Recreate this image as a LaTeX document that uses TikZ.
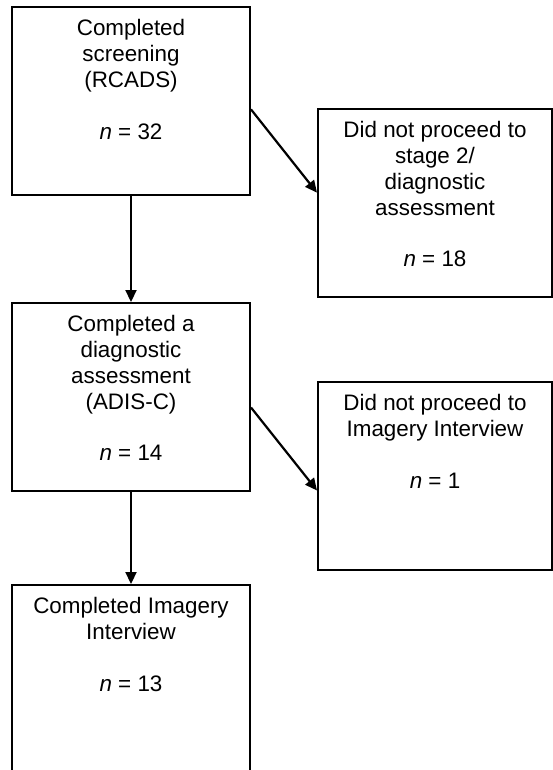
\documentclass[tikz,border=0pt]{standalone}
\usepackage{fontspec}
\setmainfont{Liberation Sans}
\usepackage{tikz}
\usetikzlibrary{positioning, arrows.meta}

\tikzset{
  stagebox/.style={draw, line width=2pt, minimum width=238pt, minimum height=188pt, inner sep=0pt},
  outbox/.style={stagebox, minimum width=234pt},
  boxtext/.style={align=center, inner sep=0pt, font=\fontsize{22.4}{25.8}\selectfont},
  flow/.style={line width=2.2pt, -{Triangle[length=12pt,width=11pt]}}
}

\begin{document}
\begin{tikzpicture}[x=1pt, y=-1pt]
\useasboundingbox (0,0) rectangle (553,770);

\node[stagebox] (screen) at (131,101) {};
\node[outbox] (stage2) at (435,203) {};
\node[stagebox] (adis) at (131,397) {};
\node[outbox] (noint) at (435,476) {};
\node[stagebox] (imagery) at (131,679) {};

\node[boxtext, below=13.5pt of screen.north] (screentxt) {Completed\\screening\\(RCADS)\\[25.8pt]\textit{n} = 32};
\node[boxtext, below=13.5pt of stage2.north] (stage2txt) {Did not proceed to\\stage 2/\\diagnostic\\assessment\\[25.8pt]\textit{n} = 18};
\node[boxtext, below=13.5pt of adis.north] (adistxt) {Completed a\\diagnostic\\assessment\\(ADIS-C)\\[25.8pt]\textit{n} = 14};
\node[boxtext, below=13.5pt of noint.north] (ninttxt) {Did not proceed to\\Imagery Interview\\[25.8pt]\textit{n} = 1};
\node[boxtext, below=13.5pt of imagery.north] (imagerytxt) {Completed Imagery\\Interview\\[25.8pt]\textit{n} = 13};

\draw[flow] (screen) -- (adis);
\draw[flow] (adis) -- (imagery);
\draw[flow] (screen.-4) -- (stage2.175);
\draw[flow] (adis.-5) -- (noint.-173);
\end{tikzpicture}
\end{document}
